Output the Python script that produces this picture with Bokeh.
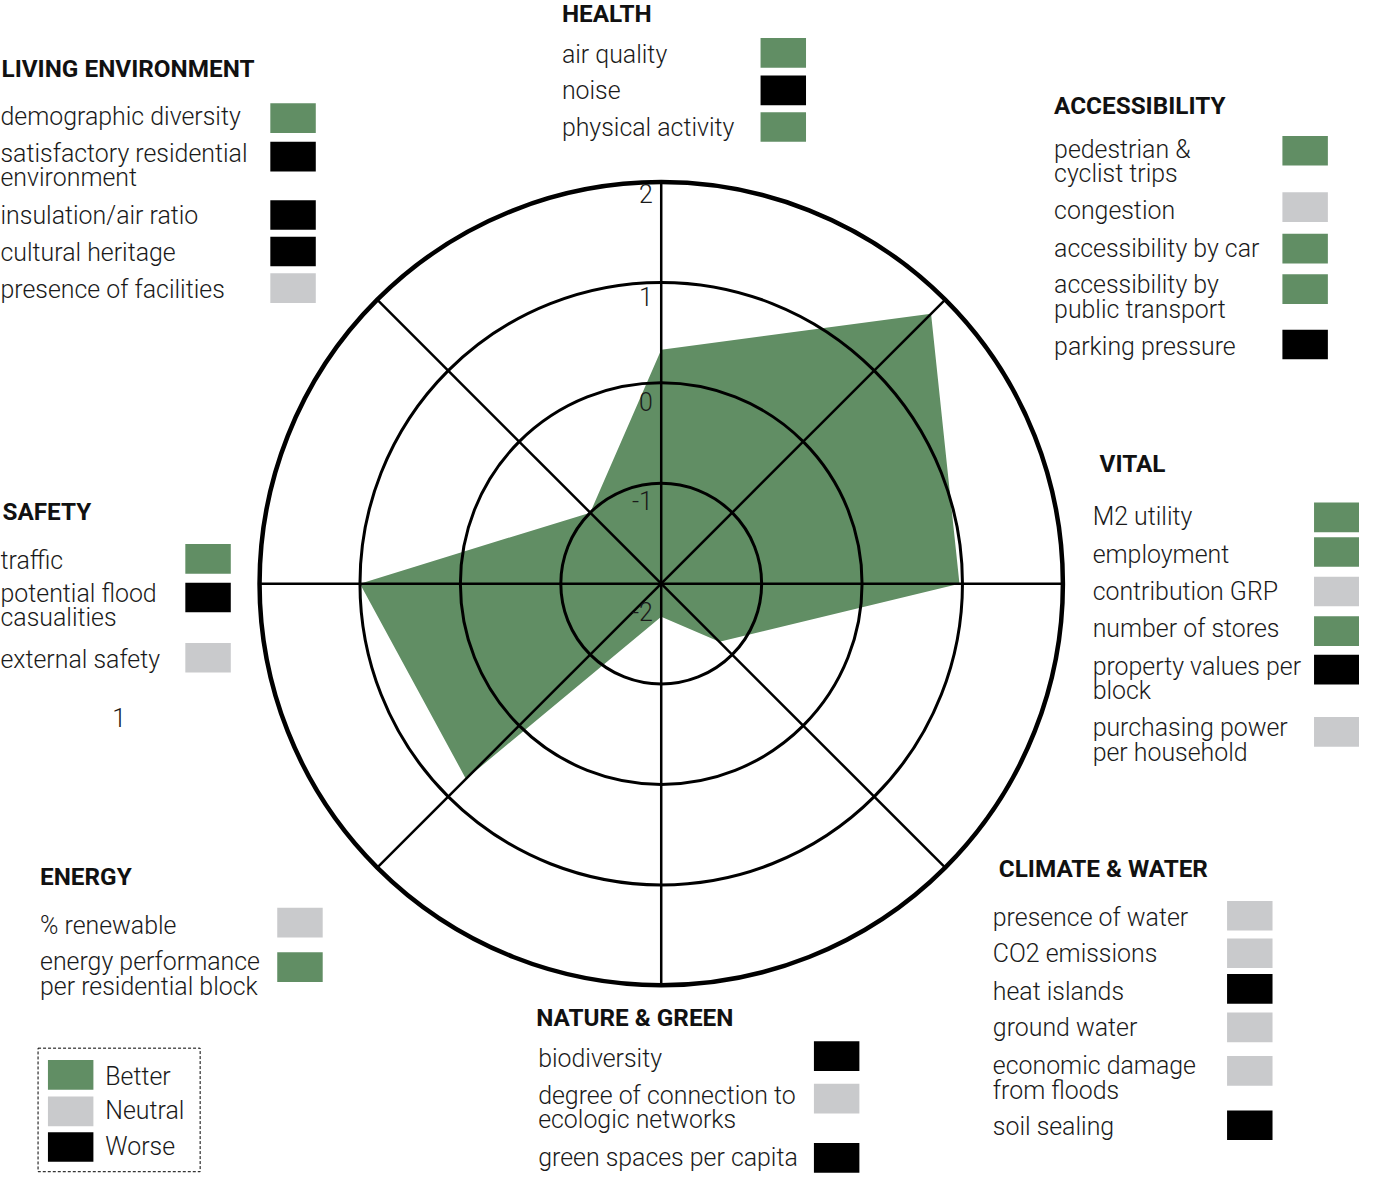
import math
from bokeh.plotting import figure
from bokeh.models import Range1d
from bokeh.core.properties import value
from bokeh.embed import file_html
from bokeh.resources import INLINE

# ---------------- data ----------------
categories = ["HEALTH", "ACCESSIBILITY", "VITAL", "CLIMATE & WATER",
              "NATURE & GREEN", "ENERGY", "SAFETY", "LIVING ENVIRONMENT"]
scores = [0.33, 1.80, 0.97, -1.18, -1.67, 0.75, 1.00, -1.00]
radial_ticks = [2, 1, 0, -1, -2]

health_items = ["air quality", "noise", "physical activity"]
health_status = ["Better", "Worse", "Better"]
access_items = ["pedestrian &\ncyclist trips", "congestion", "accessibility by car",
                "accessibility by\npublic transport", "parking pressure"]
access_status = ["Better", "Neutral", "Better", "Better", "Worse"]
vital_items = ["M2 utility", "employment", "contribution GRP", "number of stores",
               "property values per\nblock", "purchasing power\nper household"]
vital_status = ["Better", "Better", "Neutral", "Better", "Worse", "Neutral"]
climate_items = ["presence of water", "CO2 emissions", "heat islands", "ground water",
                 "economic damage\nfrom floods", "soil sealing"]
climate_status = ["Neutral", "Neutral", "Worse", "Neutral", "Neutral", "Worse"]
nature_items = ["biodiversity", "degree of connection to\necologic networks",
                "green spaces per capita"]
nature_status = ["Worse", "Neutral", "Worse"]
energy_items = ["% renewable", "energy performance\nper residential block"]
energy_status = ["Neutral", "Better"]
safety_items = ["traffic", "potential flood\ncasualities", "external safety"]
safety_status = ["Better", "Worse", "Neutral"]
living_items = ["demographic diversity", "satisfactory residential\nenvironment",
                "insulation/air ratio", "cultural heritage", "presence of facilities"]
living_status = ["Better", "Worse", "Worse", "Worse", "Neutral"]

legend_labels = ["Better", "Neutral", "Worse"]
status_colors = {"Better": "#618e64", "Neutral": "#c9cacc", "Worse": "#000000"}

# ---------------- layout ----------------
W, H = 1359, 1173
S = W / 1375.0
FONT_LIGHT = value("Roboto Light")
FONT_BOLD = value("Roboto")
TXT = "#1a1a1a"
TDY = -8.5            # baseline correction for svg text placement
ITEM_PX = 25.2
HEAD_PX = 24.6

def fs(px):
    return f"{px * S:.1f}px"

cx, cy = 668.5, 590.0
unit = 101.6          # pixels per score unit; score -2 at centre

p = figure(width=W, height=H, x_range=Range1d(0, 1375), y_range=Range1d(H / S, 0),
           output_backend="svg", toolbar_location=None,
           x_axis_location=None, y_axis_location=None, min_border=0)
p.outline_line_color = None
p.xgrid.visible = False
p.ygrid.visible = False
p.background_fill_color = "white"

angles = [90 - 45 * i for i in range(8)]

def to_xy(v, ang):
    r = (v + 2) * unit
    a = math.radians(ang)
    return cx + r * math.cos(a), cy - r * math.sin(a)

pts = [to_xy(v, a) for v, a in zip(scores, angles)]
p.patch([q[0] for q in pts], [q[1] for q in pts], fill_color=status_colors["Better"],
        line_color=None)

# rings
for t in [-1, 0, 1]:
    p.circle(x=[cx], y=[cy], radius=(t + 2) * unit, fill_color=None,
             line_color="black", line_width=3)
p.circle(x=[cx], y=[cy], radius=4 * unit, fill_color=None, line_color="black", line_width=4.5)

# spokes
for a in angles:
    ex, ey = to_xy(2, a)
    p.line([cx, ex], [cy, ey], line_color="black", line_width=2.5)

# radial tick labels
tick_offsets = [20, 23, 27, 26, 37]
tx, ty, tt = [], [], []
for v, off in zip(radial_ticks, tick_offsets):
    tx.append(660)
    ty.append(cy - (v + 2) * unit + off + TDY)
    tt.append(str(v))
p.text(x=tx, y=ty, text=tt, text_align="right", text_baseline="alphabetic",
       text_font=FONT_LIGHT, text_font_size=fs(ITEM_PX), text_color=TXT)

# category blocks: heading(x, baseline), text x, square x, item baselines, square tops
blocks = [
    ("HEALTH", health_items, health_status, (568, 22), 568, 769, [63, 100, 137], [38, 76, 113]),
    ("ACCESSIBILITY", access_items, access_status, (1066, 115), 1066, 1297,
     [159, 221, 259, 296, 359], [137, 194, 236, 277, 333]),
    ("VITAL", vital_items, vital_status, (1112, 477), 1105, 1329,
     [531, 569, 606, 644, 682, 744], [508, 543, 583, 623, 662, 725]),
    ("CLIMATE & WATER", climate_items, climate_status, (1010, 887), 1004, 1241,
     [936, 973, 1011, 1048, 1086, 1148], [911, 949, 985, 1024, 1068, 1123]),
    ("NATURE & GREEN", nature_items, nature_status, (542, 1037), 544, 823,
     [1079, 1116, 1179], [1053, 1096, 1156]),
    ("ENERGY", energy_items, energy_status, (40, 895), 40, 280, [944, 981], [918, 963]),
    ("SAFETY", safety_items, safety_status, (2, 526), 0, 187, [575, 608, 675], [550, 589, 650]),
    ("LIVING ENVIRONMENT", living_items, living_status, (1, 77), 0, 273,
     [126, 163, 226, 263, 301], [104, 143, 202, 239, 276]),
]

hx, hy, ht = [], [], []
ix, iy, it = [], [], []
ql, qr, qt, qb, qc = [], [], [], [], []
for name, items, status, (hxx, hyy), txx, sqx, bases, tops in blocks:
    hx.append(hxx); hy.append(hyy + TDY); ht.append(name)
    for lab, st, b, tp in zip(items, status, bases, tops):
        for k, line in enumerate(lab.split("\n")):
            ix.append(txx); iy.append(b + 25 * k + TDY); it.append(line)
        ql.append(sqx); qr.append(sqx + 46); qt.append(tp); qb.append(tp + 30)
        qc.append(status_colors[st])

p.text(x=hx, y=hy, text=ht, text_align="left", text_baseline="alphabetic",
       text_font=FONT_BOLD, text_font_style="bold", text_font_size=fs(HEAD_PX),
       text_color="#111111")
p.text(x=ix, y=iy, text=it, text_align="left", text_baseline="alphabetic",
       text_font=FONT_LIGHT, text_font_size=fs(ITEM_PX), text_color=TXT)
p.quad(left=ql, right=qr, top=qt, bottom=qb, fill_color=qc, line_color=None)

# stray label
p.text(x=[113], y=[734 + TDY], text=["1"], text_align="left", text_baseline="alphabetic",
       text_font=FONT_LIGHT, text_font_size=fs(ITEM_PX), text_color=TXT)

# legend
p.quad(left=[38], right=[202], top=[1060], bottom=[1185], fill_color=None,
       line_color="black", line_width=1, line_dash="3 2")
lt = [1072, 1109, 1145]
lb = [1097, 1132, 1168]
p.quad(left=[48] * 3, right=[94] * 3, top=lt, bottom=[t + 30 for t in lt],
       fill_color=[status_colors[l] for l in legend_labels], line_color=None)
p.text(x=[106] * 3, y=[b + TDY for b in lb], text=legend_labels, text_align="left",
       text_baseline="alphabetic", text_font=FONT_LIGHT, text_font_size=fs(ITEM_PX),
       text_color=TXT)

open("out.html", "w").write(file_html(p, INLINE))
